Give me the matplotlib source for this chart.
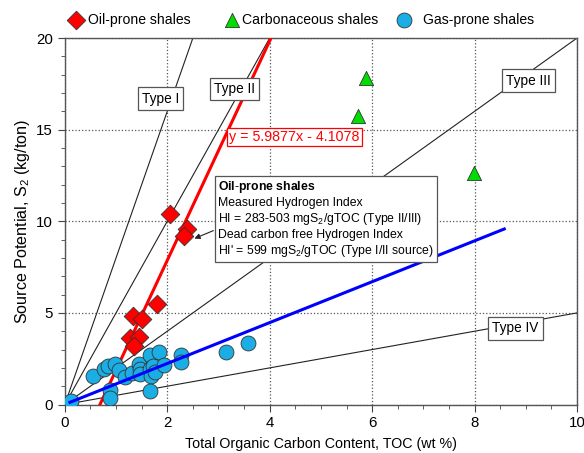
import matplotlib
matplotlib.use("Agg")
import matplotlib.pyplot as plt
from matplotlib.ticker import MultipleLocator

plt.rcParams['font.family'] = ['Liberation Sans', 'DejaVu Sans']
plt.rcParams['mathtext.fontset'] = 'custom'
plt.rcParams['mathtext.rm'] = 'Liberation Sans'
plt.rcParams['mathtext.it'] = 'Liberation Sans:italic'
plt.rcParams['mathtext.bf'] = 'Liberation Sans:bold'

# ---- data ----
oil_toc = [2.06, 2.38, 2.32, 1.80, 1.33, 1.51, 1.28, 1.44, 1.36]
oil_s2 = [10.4, 9.6, 9.2, 5.5, 4.85, 4.65, 3.65, 3.7, 3.2]

carb_toc = [5.88, 5.73, 7.99]
carb_s2 = [17.8, 15.75, 12.65]

gas_toc = [0.12, 0.55, 0.77, 0.84, 0.98, 1.06, 1.17, 0.88, 0.88, 1.32, 1.45, 1.47,
           1.47, 1.66, 1.67, 1.83, 1.72, 1.69, 1.77, 1.93, 1.66, 2.26, 2.26, 3.14, 3.58]
gas_s2 = [0.2, 1.55, 1.92, 2.08, 2.2, 1.9, 1.5, 0.78, 0.33, 1.73, 2.22, 1.95,
          1.68, 1.95, 2.68, 2.86, 2.09, 1.58, 1.77, 2.17, 0.72, 2.73, 2.31, 2.85, 3.35]

# kerogen type lines (HI, mg S2 / g TOC) -> slope = HI/100
type_names = ['Type I', 'Type II', 'Type III', 'Type IV']
type_hi = [800, 500, 200, 50]
type_label_x = [1.87, 3.31, 9.06, 8.80]
type_label_y = [16.7, 17.2, 17.68, 4.15]

# oil-prone regression
fit_slope = 5.9877
fit_intercept = -4.1078
fit_x = [-fit_intercept / fit_slope, (20 - fit_intercept) / fit_slope]

# gas-prone trend line
gas_line_x = [0.1, 8.58]
gas_line_y = [0.12, 9.58]

fig = plt.figure(figsize=(5.84, 4.53), dpi=100)
ax = fig.add_axes([0.111, 0.107, 0.877, 0.809])
ax.set_xlim(0, 10)
ax.set_ylim(0, 20)

ax.xaxis.set_major_locator(MultipleLocator(2))
ax.xaxis.set_minor_locator(MultipleLocator(0.5))
ax.yaxis.set_major_locator(MultipleLocator(5))
ax.yaxis.set_minor_locator(MultipleLocator(1))
ax.tick_params(which='both', direction='out', color='#444444', labelsize=10.8)
ax.tick_params(which='major', length=5)
ax.tick_params(which='minor', length=3)
ax.grid(True, which='major', color='#555555', linestyle=':', linewidth=0.9)
ax.set_axisbelow(True)
for s in ax.spines.values():
    s.set_color('#555555')
    s.set_linewidth(1.0)

# type lines
for name, hi, lx, ly in zip(type_names, type_hi, type_label_x, type_label_y):
    k = hi / 100.0
    xe = min(10, 20 / k)
    ax.plot([0, xe], [0, k * xe], color='#222222', lw=0.8, zorder=2)
    ax.text(lx, ly, name, ha='center', va='center', fontsize=9.8, zorder=6,
            bbox=dict(boxstyle='square,pad=0.3', fc='white', ec='#555555', lw=0.9))

# regression line
ax.plot(fit_x, [fit_slope * x + fit_intercept for x in fit_x], color='#FF0000', lw=2.2, zorder=3)
ax.text(4.48, 14.6, 'y = 5.9877x - 4.1078', color='#FF0000', fontsize=10.3,
        ha='center', va='center', zorder=6,
        bbox=dict(boxstyle='square,pad=0.15', fc='white', ec='#FF0000', lw=0.9))

# points
h_oil = ax.scatter(oil_toc, oil_s2, marker='D', s=90, c='#FF0000', edgecolors='#333333',
                   linewidths=0.6, zorder=5)
h_carb = ax.scatter(carb_toc, carb_s2, marker='^', s=105, c='#00DD00', edgecolors='#333333',
                    linewidths=0.6, zorder=5)
h_gas = ax.scatter(gas_toc, gas_s2, marker='o', s=115, c='#1AAEE5', edgecolors='#333333',
                   linewidths=0.6, zorder=4)

ax.plot(gas_line_x, gas_line_y, color='#0000FF', lw=2.2, zorder=4.5)

# annotation box
box_lines = [r'$\mathbf{Oil}$-$\mathbf{prone\ shales}$', 'Measured Hydrogen Index',
             'HI = 283-503 mgS$_2$/gTOC (Type II/III)',
             'Dead carbon free Hydrogen Index',
             "HI' = 599 mgS$_2$/gTOC (Type I/II source)"]
ax.text(3.0, 12.3, '\n'.join(box_lines), ha='left', va='top', fontsize=8.8,
        linespacing=1.2, zorder=6,
        bbox=dict(boxstyle='square,pad=0.25', fc='white', ec='#555555', lw=0.9))
ax.annotate('', xy=(2.48, 9.0), xytext=(2.95, 9.55),
            arrowprops=dict(arrowstyle='-|>', color='#222222', lw=0.8,
                            mutation_scale=8), zorder=6)

ax.set_xlabel('Total Organic Carbon Content, TOC (wt %)', fontsize=10.3, labelpad=5)
ax.set_ylabel('Source Potential, S$_2$ (kg/ton)', fontsize=11.6, labelpad=3)

# legend entries placed individually (figure pixel anchors)
W, H = 584.0, 453.0
leg_specs = [(h_oil, 'Oil-prone shales', 69, 0.35),
             (h_carb, 'Carbonaceous shales', 225, 0.2),
             (h_gas, 'Gas-prone shales', 397, 0.85)]
for handle, lab, px, pad in leg_specs:
    lg = fig.legend([handle], [lab], loc='center left',
                    bbox_to_anchor=(px / W, 1 - 20 / H), frameon=False,
                    fontsize=10.1, handlelength=1.0, handletextpad=pad,
                    borderpad=0, borderaxespad=0, scatterpoints=1)

fig.savefig('out.png', dpi=100)
